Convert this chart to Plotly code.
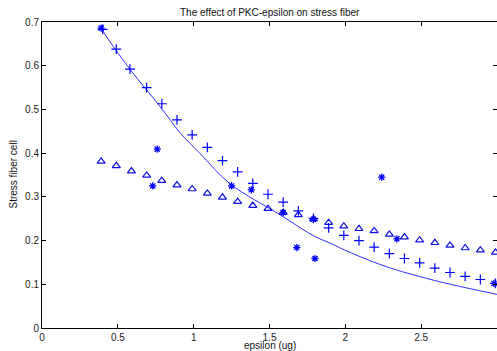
import plotly.graph_objects as go

title = "The effect of PKC-epsilon on stress fiber"
x_label = "epsilon (ug)"
y_label = "Stress fiber cell"

plus_x = [0.40, 0.49, 0.58, 0.69, 0.79, 0.89, 0.99, 1.09, 1.19, 1.29, 1.39, 1.49, 1.59,
          1.69, 1.79, 1.89, 1.99, 2.09, 2.19, 2.29, 2.39, 2.49, 2.59, 2.69, 2.79, 2.89, 2.99]
plus_y = [0.683, 0.638, 0.592, 0.550, 0.513, 0.476, 0.442, 0.413, 0.383, 0.357, 0.331, 0.306,
          0.288, 0.268, 0.251, 0.229, 0.212, 0.200, 0.185, 0.170, 0.159, 0.149, 0.137, 0.127,
          0.118, 0.111, 0.102]

tri_x = [0.39, 0.49, 0.59, 0.69, 0.79, 0.89, 0.99, 1.09, 1.19, 1.29, 1.39, 1.49, 1.59,
         1.69, 1.79, 1.89, 1.99, 2.09, 2.19, 2.29, 2.39, 2.49, 2.59, 2.69, 2.79, 2.89, 2.99]
tri_y = [0.381, 0.371, 0.359, 0.349, 0.337, 0.327, 0.318, 0.308, 0.299, 0.289, 0.280, 0.273,
         0.264, 0.259, 0.249, 0.241, 0.233, 0.227, 0.222, 0.214, 0.208, 0.201, 0.195, 0.189,
         0.183, 0.178, 0.173]

star_x = [0.39, 0.76, 0.73, 1.25, 1.38, 1.59, 1.68, 1.79, 1.80, 2.24, 2.34, 2.98]
star_y = [0.686, 0.409, 0.325, 0.325, 0.316, 0.264, 0.184, 0.249, 0.159, 0.345, 0.204, 0.102]

fit_x = [0.39, 0.44, 0.58, 0.78, 0.91, 1.04, 1.24, 1.57, 1.79, 1.90, 2.03, 2.29, 2.62, 3.00]
fit_y = [0.686, 0.659, 0.592, 0.506, 0.447, 0.400, 0.330, 0.259, 0.211, 0.194, 0.173, 0.138,
         0.106, 0.077]

x_ticks = [0, 0.5, 1, 1.5, 2, 2.5, 3]
y_ticks = [0, 0.1, 0.2, 0.3, 0.4, 0.5, 0.6, 0.7]

blue = "#0000ff"
font_family = "Liberation Sans, Arial"
fig = go.Figure()
fig.add_trace(go.Scatter(x=fit_x, y=fit_y, mode="lines", line=dict(color="#3030ff", width=1, shape="spline"),
                         hoverinfo="skip"))
fig.add_trace(go.Scatter(x=tri_x, y=tri_y, mode="markers", cliponaxis=False,
                         marker=dict(symbol="triangle-up-open", size=7, color="#1010e0",
                                     line=dict(width=1.2, color="#1010e0"))))
fig.add_trace(go.Scatter(x=plus_x, y=plus_y, mode="markers", cliponaxis=False,
                         marker=dict(symbol="cross-thin-open", size=7, color=blue,
                                     line=dict(width=1.2, color=blue))))
fig.add_trace(go.Scatter(x=star_x, y=star_y, mode="markers", cliponaxis=False,
                         marker=dict(symbol="asterisk-open", size=6, color=blue,
                                     line=dict(width=1.3, color=blue))))

axis_common = dict(showgrid=False, zeroline=False, showline=True, linecolor="black", linewidth=1,
                   mirror="ticks", ticks="inside", ticklen=4, tickcolor="black", automargin=False,
                   tickfont=dict(family=font_family, size=10, color="#222"))
fig.update_layout(
    width=497, height=351,
    margin=dict(l=42, r=0, t=22, b=23, autoexpand=False),
    paper_bgcolor="white", plot_bgcolor="white",
    showlegend=False,
    xaxis=dict(range=[0, 3], tickvals=x_ticks, ticktext=["0", "0.5", "1", "1.5", "2", "2.5", "3"],
               **axis_common),
    yaxis=dict(range=[0, 0.7], tickvals=y_ticks, ticktext=["0", "0.1", "0.2", "0.3", "0.4", "0.5", "0.6", "0.7"],
               **axis_common),
    annotations=[
        dict(text=title, xref="paper", yref="paper", x=0.5, y=1, yshift=2, xanchor="center", yanchor="bottom",
             showarrow=False, font=dict(family=font_family, size=10, color="#111")),
        dict(text=x_label, xref="paper", yref="paper", x=0.5, y=0, yshift=-10, xanchor="center", yanchor="top",
             showarrow=False, font=dict(family=font_family, size=10, color="#111")),
        dict(text=y_label, xref="paper", yref="paper", x=0, y=0.5, xshift=-22, xanchor="right", yanchor="middle",
             textangle=-90, showarrow=False, font=dict(family=font_family, size=10, color="#111")),
    ],
)
fig.write_html("out.html", config={"displayModeBar": False},
               post_script="document.body.style.margin='0';document.body.style.overflow='hidden';")
